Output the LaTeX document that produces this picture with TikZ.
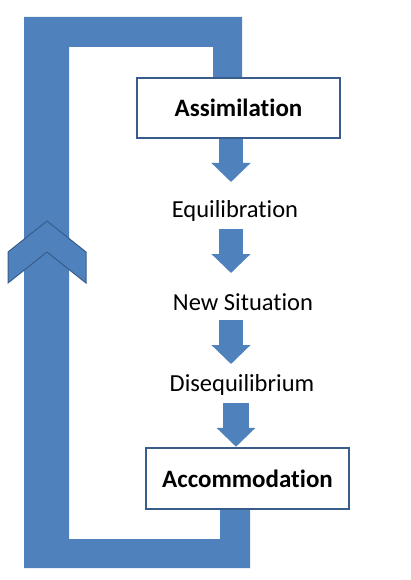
\documentclass[tikz,border=0pt]{standalone}
\usepackage{fontspec}
\setmainfont[Ligatures=NoCommon]{Carlito}
\usetikzlibrary{arrows.meta}
\definecolor{fillblue}{HTML}{4F81BD}
\definecolor{edgeblue}{HTML}{385D8A}
\tikzset{
  boxnode/.style={draw=edgeblue, line width=2.5pt, fill=white, minimum width=203pt, minimum height=60pt, inner sep=0pt, font=\fontsize{25}{28}\selectfont\bfseries},
  labelnode/.style={inner sep=0pt, font=\fontsize{24.5}{27}\selectfont},
  bigarrow/.style={fillblue, line width=24pt, -{Triangle[length=19pt 0 0, width=38pt 0 0]}, shorten >=0pt},
}
\begin{document}
\begin{tikzpicture}[x=1pt, y=-1pt]
\useasboundingbox (0,0) rectangle (410,580);
% feedback loop
\fill[fillblue] (24,17) -- (242,17) -- (242,100) -- (213,100) -- (213,47) -- (69,47)
  -- (69,539) -- (220,539) -- (220,490) -- (250,490) -- (250,568) -- (24,568) -- cycle;
% chevron
\filldraw[fill=fillblue, draw=edgeblue, line width=1pt] (47,221) -- (86,252) -- (86,283) -- (47,252) -- (8,283) -- (8,252) -- cycle;
% nodes
\node[boxnode] (assim) at (238.5,108) {Assimilation};
\node[labelnode] (equi) at (235,211) {Equilibration};
\node[labelnode] (newsit) at (243,302) {New Situation};
\node[labelnode] (diseq) at (242,385) {Disequilibrium};
\node[boxnode, minimum height=61pt] (accom) at (247.5,478.5) {Accommodation};
% arrow end points
\coordinate (a1s) at (assim.south -| 231,0);
\coordinate (a1e) at (231,182);
\coordinate (a2s) at (231,229);
\coordinate (a2e) at (231,273);
\coordinate (a3s) at (231,320);
\coordinate (a3e) at (231,364);
\coordinate (a4s) at (236,403);
\coordinate (a4e) at (accom.north -| 236,0);
\draw[bigarrow] (a1s) -- (a1e);
\draw[bigarrow] (a2s) -- (a2e);
\draw[bigarrow] (a3s) -- (a3e);
\draw[bigarrow, line width=26pt] (a4s) -- (a4e);
\end{tikzpicture}
\end{document}
